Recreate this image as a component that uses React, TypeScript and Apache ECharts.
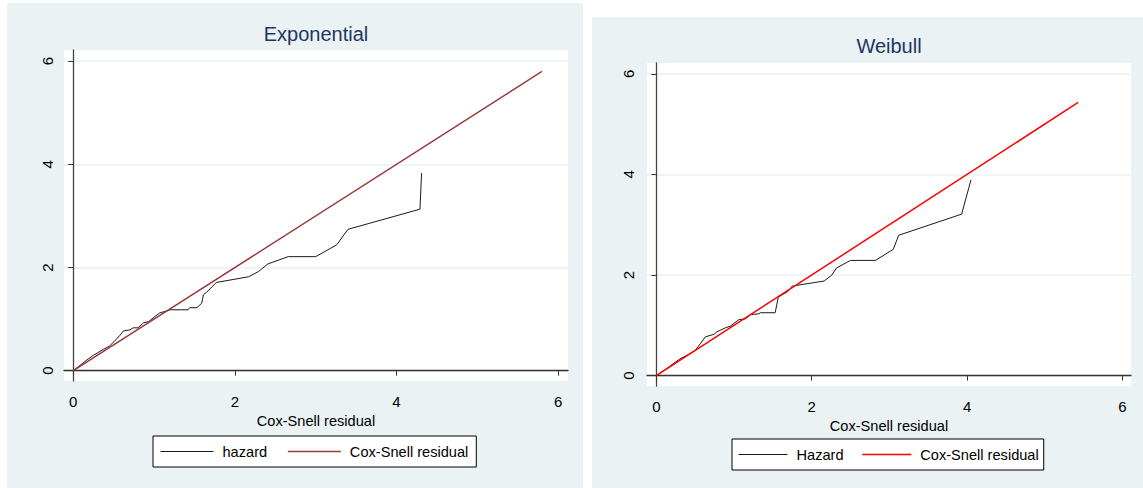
import React, { useEffect, useRef } from 'react';
import * as echarts from 'echarts';

// ---- Data ----
const tickValues = [0, 2, 4, 6];

const expHazardX = [0, 0.17, 0.25, 0.37, 0.45, 0.52, 0.58, 0.62, 0.70, 0.74, 0.80, 0.87, 0.93, 1.01, 1.07, 1.16, 1.20, 1.42, 1.44, 1.53, 1.59, 1.61, 1.65, 1.77, 2.17, 2.29, 2.41, 2.66, 3.00, 3.26, 3.40, 4.29, 4.31];
const expHazardY = [0, 0.21, 0.30, 0.41, 0.48, 0.59, 0.69, 0.77, 0.79, 0.83, 0.83, 0.93, 0.95, 1.05, 1.12, 1.16, 1.18, 1.18, 1.22, 1.22, 1.31, 1.47, 1.52, 1.71, 1.82, 1.92, 2.07, 2.21, 2.21, 2.44, 2.74, 3.13, 3.83];
const expCoxX = [0, 5.8];
const expCoxY = [0, 5.8];

const weiHazardX = [0, 0.16, 0.29, 0.39, 0.50, 0.57, 0.63, 0.74, 0.78, 0.89, 0.95, 1.06, 1.15, 1.21, 1.32, 1.34, 1.53, 1.57, 1.70, 1.75, 2.16, 2.26, 2.32, 2.50, 2.82, 3.05, 3.12, 3.93, 4.05];
const weiHazardY = [0, 0.17, 0.32, 0.40, 0.50, 0.64, 0.77, 0.82, 0.87, 0.95, 0.98, 1.11, 1.13, 1.21, 1.23, 1.25, 1.25, 1.56, 1.68, 1.78, 1.88, 2.00, 2.14, 2.29, 2.29, 2.51, 2.79, 3.21, 3.89];
const weiCoxX = [0, 5.43];
const weiCoxY = [0, 5.43];

const zip = (xs: number[], ys: number[]) => xs.map((x, i) => [x, ys[i]]);

const FONT = '"Liberation Sans", Arial, sans-serif';
const PANEL_BG = '#eaf2f3';
const MAROON = '#9b3a3d';
const RED = '#ff0000';
const BLACK = '#1a1a1a';

function axisX(gridIndex: number, min: number, max: number, margin: number) {
  return {
    type: 'value', gridIndex, min, max,
    name: 'Cox-Snell residual', nameLocation: 'middle', nameGap: 28,
    nameTextStyle: { fontFamily: FONT, fontSize: 14.6, color: '#000' },
    axisLine: { show: true, lineStyle: { color: '#333', width: 1.3 } },
    axisTick: { show: true, length: 5, customValues: tickValues, lineStyle: { color: '#333' } },
    axisLabel: { customValues: tickValues, margin, fontFamily: FONT, fontSize: 15, color: '#000' },
    splitLine: { show: false },
  };
}
function axisY(gridIndex: number, min: number, max: number, margin: number) {
  return {
    type: 'value', gridIndex, min, max,
    axisLine: { show: true, lineStyle: { color: '#444', width: 1.3 } },
    axisTick: { show: true, length: 5, customValues: tickValues, lineStyle: { color: '#333' } },
    axisLabel: { customValues: tickValues, rotate: 90, margin, fontFamily: FONT, fontSize: 15, color: '#000' },
    splitLine: { show: true, lineStyle: { color: PANEL_BG, width: 1.5 } },
  };
}

export default function App() {
  const ref = useRef<HTMLDivElement>(null);
  useEffect(() => {
    if (!ref.current) return;
    const chart = echarts.init(ref.current, undefined, { renderer: 'svg' });
    const option: any = {
      animation: false,
      backgroundColor: '#ffffff',
      graphic: {
        elements: [
          { type: 'rect', z: -10, shape: { x: 7, y: 3, width: 576, height: 485 }, style: { fill: PANEL_BG } },
          { type: 'rect', z: -10, shape: { x: 592, y: 17, width: 551, height: 471 }, style: { fill: PANEL_BG } },
        ],
      },
      title: [
        { text: 'Exponential', left: 316, top: 24, textAlign: 'center', padding: 0,
          textStyle: { fontFamily: FONT, fontSize: 20, fontWeight: 'normal', color: '#1f3464' } },
        { text: 'Weibull', left: 889, top: 36, textAlign: 'center', padding: 0,
          textStyle: { fontFamily: FONT, fontSize: 20, fontWeight: 'normal', color: '#1f3464' } },
      ],
      legend: [
        {
          left: 153, top: 436, orient: 'horizontal', selectedMode: false,
          backgroundColor: '#fff', borderColor: '#000', borderWidth: 1, borderRadius: 0,
          padding: [8, 8, 8, 7], itemWidth: 53, itemHeight: 14, itemGap: 20,
          textStyle: { fontFamily: FONT, fontSize: 14.6, color: '#000', padding: [0, 0, 0, 4] },
          data: [
            { name: 'hazard', lineStyle: { color: BLACK, width: 1 }, itemStyle: { opacity: 0 } },
            { name: 'Cox-Snell residual', lineStyle: { color: MAROON, width: 1.5 }, itemStyle: { opacity: 0 } },
          ],
        },
        {
          left: 732, top: 439, orient: 'horizontal', selectedMode: false,
          backgroundColor: '#fff', borderColor: '#000', borderWidth: 1, borderRadius: 0,
          padding: [8, 5, 8, 6], itemWidth: 49, itemHeight: 14, itemGap: 18,
          textStyle: { fontFamily: FONT, fontSize: 14.6, color: '#000', padding: [0, 0, 0, 4] },
          data: [
            { name: 'Hazard', lineStyle: { color: BLACK, width: 1 }, itemStyle: { opacity: 0 } },
            { name: 'Cox-Snell residual', lineStyle: { color: RED, width: 1.5 }, itemStyle: { opacity: 0 } },
          ],
        },
      ],
      grid: [
        { left: 64, top: 50, width: 504, height: 331, show: true, backgroundColor: '#fff', borderWidth: 0, containLabel: false },
        { left: 647, top: 63, width: 484, height: 323, show: true, backgroundColor: '#fff', borderWidth: 0, containLabel: false },
      ],
      xAxis: [axisX(0, -0.115, 6.122, 13), axisX(1, -0.12, 6.11, 13)],
      yAxis: [axisY(0, -0.2, 6.215, 9), axisY(1, -0.207, 6.215, 11)],
      series: [
        { name: 'hazard', type: 'line', xAxisIndex: 0, yAxisIndex: 0, symbol: 'none', z: 3,
          data: zip(expHazardX, expHazardY), lineStyle: { color: BLACK, width: 1 }, itemStyle: { color: BLACK } },
        { name: 'Cox-Snell residual', type: 'line', xAxisIndex: 0, yAxisIndex: 0, symbol: 'none', z: 4,
          data: zip(expCoxX, expCoxY), lineStyle: { color: MAROON, width: 1.5 }, itemStyle: { color: MAROON } },
        { name: 'Hazard', type: 'line', xAxisIndex: 1, yAxisIndex: 1, symbol: 'none', z: 3,
          data: zip(weiHazardX, weiHazardY), lineStyle: { color: BLACK, width: 1 }, itemStyle: { color: BLACK } },
        { name: 'Cox-Snell residual', type: 'line', xAxisIndex: 1, yAxisIndex: 1, symbol: 'none', z: 4,
          data: zip(weiCoxX, weiCoxY), lineStyle: { color: RED, width: 1.5 }, itemStyle: { color: RED } },
      ],
    };
    chart.setOption(option);
    return () => chart.dispose();
  }, []);
  return (
    <div
      ref={ref}
      style={{ position: 'absolute', left: 0, top: 0, width: 1143, height: 488 }}
    />
  );
}
